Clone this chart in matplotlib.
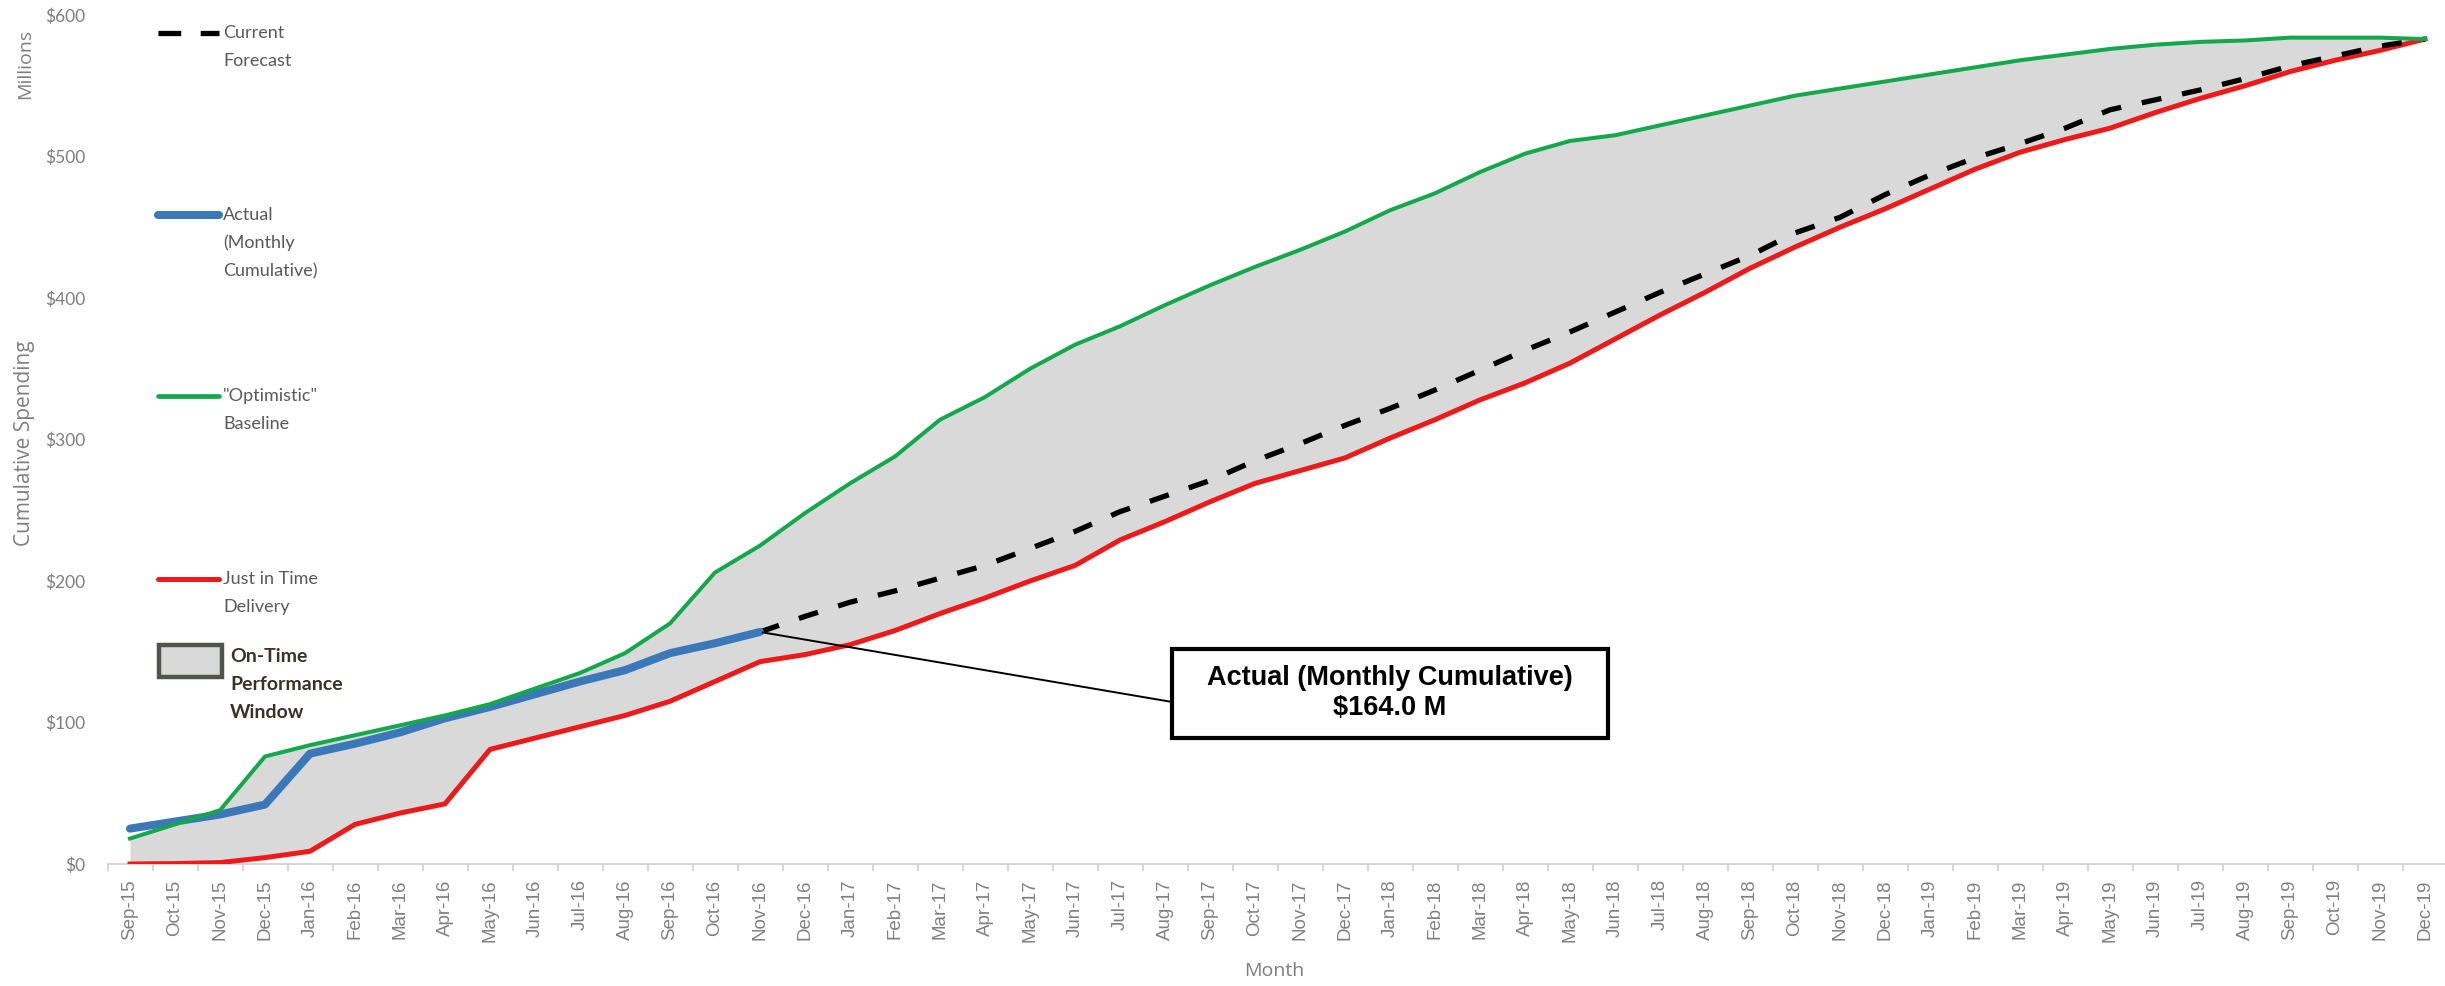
import numpy as np
import pandas as pd
import matplotlib
matplotlib.use('Agg')
import matplotlib.pyplot as plt
from matplotlib.lines import Line2D
from matplotlib.patches import Rectangle

# month categories Sep-15 .. Dec-19
months = [d.strftime('%b-%y') for d in pd.date_range('2015-09-01', '2019-12-01', freq='MS')]

# cumulative spending, $ millions
optimistic = [18, 28, 38, 76, 84, 91, 98, 105, 113, 124, 135, 149, 170, 206, 225,
              248, 269, 288, 314, 330, 350, 367, 380, 395, 409, 422, 434, 447,
              462, 474, 489, 502, 511, 515, 522, 529, 536, 543, 548, 553,
              558, 563, 568, 572, 576, 579, 581, 582, 584, 584, 584, 583]
just_in_time = [0, 0.3, 1, 4.5, 9, 28, 36, 42.5, 81, 89, 97, 105, 115, 129, 143,
                148, 155, 165, 177, 188, 200, 211, 229, 242, 256, 269, 278, 287,
                301, 314, 328, 340, 354, 371, 388, 404, 421, 436, 450, 463,
                477, 491, 503, 512, 520, 531, 541, 550, 560, 568, 575, 583]
actual = [25, 30, 35, 42, 78, 85, 93, 103, 111, 120, 129, 137, 149, 156, 164]
forecast = [164, 175, 185, 193, 202, 211, 223, 235, 249, 260, 271, 285, 297, 310,
            322, 335, 349, 363, 376, 390, 404, 417, 430, 446, 457, 473,
            487, 499, 509, 520, 533, 540, 547, 555, 564, 571, 578, 583]
actual_last = 164.0

W, H = 2445, 986
def fx(px):
    return px / W
def fy(py):
    return 1 - py / H

C_BLUE = '#3a78b9'
C_GREEN = '#14a84c'
C_RED = '#ee1a1a'
C_FILL = '#d9d9d9'
C_TXT = '#7f7f7f'

fig = plt.figure(figsize=(W / 100, H / 100), dpi=100)
ax = fig.add_axes([fx(107.5), fy(864), 2340 / W, (864 - 15) / H])

x = np.arange(len(months))
x_act = x[:len(actual)]
x_fc = x[len(actual) - 1:]

ax.fill_between(x, just_in_time, optimistic, color=C_FILL, lw=0, zorder=1)
ax.plot(x, just_in_time, color=C_RED, lw=3.6, solid_joinstyle='round', zorder=3)
ax.plot(x_fc, forecast, color='black', lw=3.8, dashes=(3.8, 4.0), zorder=3)
ax.plot(x_act, actual, color=C_BLUE, lw=5.8, solid_joinstyle='round',
        solid_capstyle='round', zorder=4)
ax.plot(x, optimistic, color=C_GREEN, lw=2.9, solid_joinstyle='round', zorder=5)

ax.set_xlim(-0.5, len(months) - 0.5)
ax.set_ylim(0, 600)
ax.set_xticks(x)
ax.set_xticklabels(months, rotation=90, fontsize=13.5, color='#808080',
                   family='Liberation Sans')
ax.set_xticks(np.arange(-0.5, len(months), 1), minor=True)
ax.tick_params(axis='x', which='major', length=0, pad=11)
ax.tick_params(axis='x', which='minor', length=5, color='#d0d0d0', width=1.2)
ax.set_yticks(np.arange(0, 601, 100))
ax.set_yticklabels(['$%d' % v for v in range(0, 601, 100)], fontsize=12.5,
                   color=C_TXT, family='Lato')
ax.tick_params(axis='y', length=0, pad=16)
for s in ['top', 'right', 'left']:
    ax.spines[s].set_visible(False)
ax.spines['bottom'].set_color('#d0d0d0')
ax.spines['bottom'].set_linewidth(1.2)
ax.patch.set_alpha(0)

ax.set_xlabel('Month', fontsize=14, color=C_TXT, family='Open Sans')
ax.xaxis.set_label_coords(0.4985, -0.116)
fig.text(fx(25), fy(443), 'Cumulative Spending', rotation=90, ha='center',
         va='center', fontsize=15, color=C_TXT, family='Open Sans')
fig.text(fx(25), fy(64), 'Millions', rotation=90, ha='center', va='center',
         fontsize=14, color=C_TXT, family='Open Sans')

# callout for the latest actual value
ax.annotate('', xy=(x_act[-1], actual_last), xytext=(23.16, 114.5),
            arrowprops=dict(arrowstyle='-', color='black', lw=1.4), zorder=6)
ax.add_patch(Rectangle((23.16, 89), 32.84 - 23.16, 152 - 89, fill=True,
                       facecolor='white', edgecolor='black', lw=3, zorder=7))
ax.text(28.0, 120.5, 'Actual (Monthly Cumulative)\n$%.1f M' % actual_last,
        ha='center', va='center', fontsize=19.5, fontweight='bold',
        family='Liberation Sans', linespacing=1.2, zorder=8)

# legend drawn at the left, Excel style
def leg_line(y, color, lw, dashes=None):
    ln = Line2D([fx(158), fx(219)], [fy(y), fy(y)], color=color, lw=lw,
                solid_capstyle='round', transform=fig.transFigure)
    if dashes:
        ln.set_dashes(dashes)
    fig.add_artist(ln)

def leg_text(y, lines, bold=False, color='#595959', xpx=223, size=13):
    for k, t in enumerate(lines):
        fig.text(fx(xpx), fy(y + 28 * k), t, ha='left', va='center',
                 fontsize=size, color=color, family='Lato',
                 fontweight='bold' if bold else 'normal')

leg_line(33, 'black', 3.8, dashes=(4.3, 3.7))
leg_text(33, ['Current', 'Forecast'])
leg_line(215, C_BLUE, 5.8)
leg_text(215, ['Actual', '(Monthly', 'Cumulative)'])
leg_line(396, C_GREEN, 3.4)
leg_text(396, ['"Optimistic"', 'Baseline'])
leg_line(579, C_RED, 3.6)
leg_text(579, ['Just in Time', 'Delivery'])
fig.add_artist(Rectangle((fx(159), fy(677)), fx(222) - fx(159), fy(645) - fy(677),
                         facecolor=C_FILL, edgecolor='#4f554a', lw=3.2,
                         transform=fig.transFigure))
leg_text(657, ['On-Time', 'Performance', 'Window'], bold=True, color='#3a3229',
         xpx=230, size=14)

fig.savefig('out.png', dpi=100)
